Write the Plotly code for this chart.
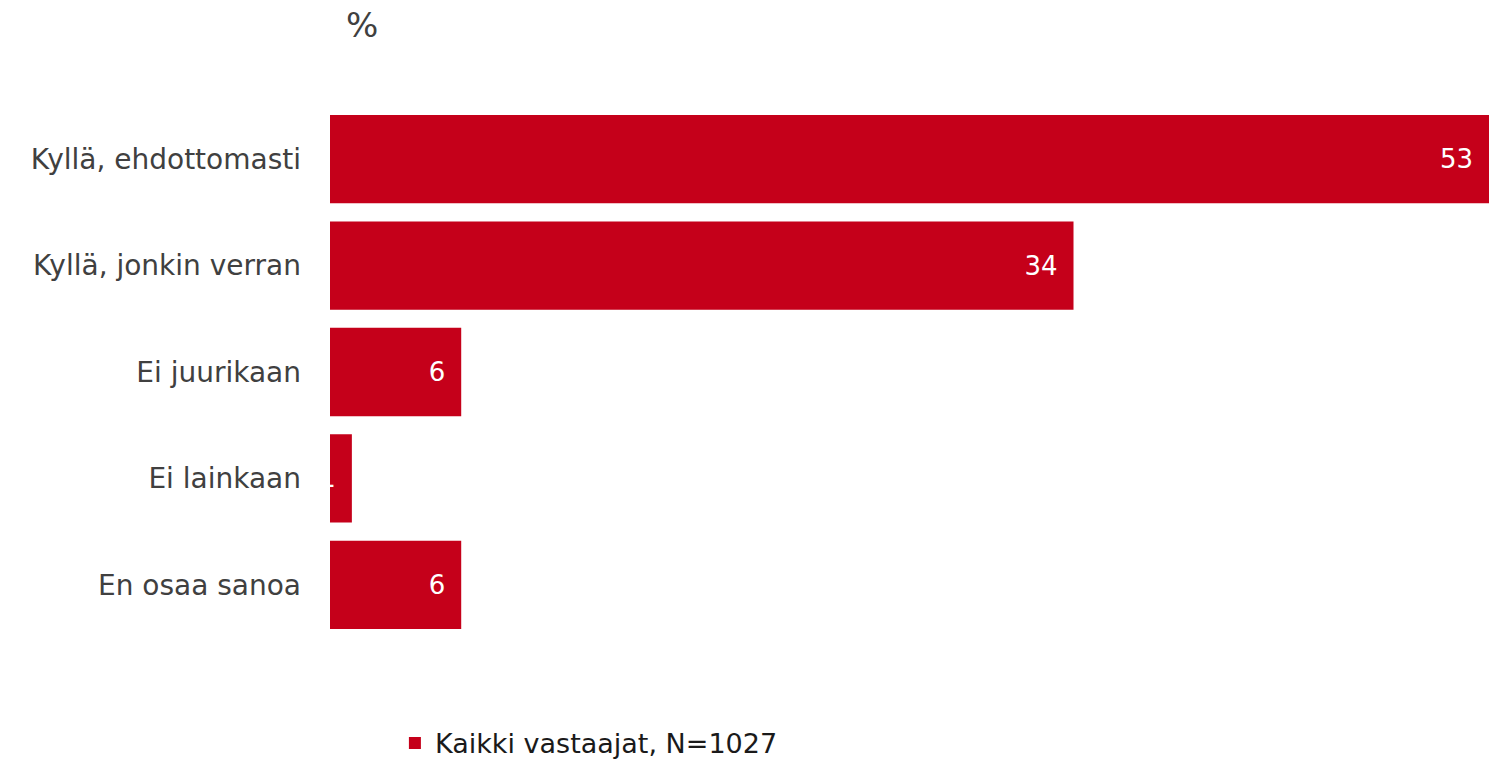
import plotly.graph_objects as go

categories = ["Kyllä, ehdottomasti", "Kyllä, jonkin verran", "Ei juurikaan", "Ei lainkaan", "En osaa sanoa"]
values = [53, 34, 6, 1, 6]
series_name = "Kaikki vastaajat, N=1027"

fig = go.Figure()
fig.add_trace(go.Bar(
    y=categories, x=values, orientation="h", name=series_name,
    marker=dict(color="#C5001A", line=dict(width=0)),
    text=[f"{v}\u2002" for v in values],
    textposition="inside", insidetextanchor="end", constraintext="none", textangle=0,
    textfont=dict(color="white", size=26, family="DejaVu Sans"),
    cliponaxis=True,
))
fig.update_layout(
    width=1489, height=764,
    margin=dict(l=330, r=0, t=106, b=126, autoexpand=False),
    plot_bgcolor="white", paper_bgcolor="white",
    bargap=0.17,
    showlegend=True,
    font=dict(family="DejaVu Sans", color="#404040"),
    legend=dict(orientation="h", x=0.056, xanchor="left", y=-0.198, yanchor="middle",
                font=dict(size=27, color="#1a1a1a")),
    annotations=[dict(text="%", xref="paper", yref="paper", x=0.0276, y=1.152, xanchor="center",
                      yanchor="middle", showarrow=False, font=dict(size=34, color="#404040"))],
)
fig.update_xaxes(range=[0, 53], visible=False)
fig.update_yaxes(autorange="reversed", showgrid=False, showline=False, ticks="",
                 tickfont=dict(size=28, color="#404040"), ticklabelstandoff=28)
fig.write_html("out.html")
